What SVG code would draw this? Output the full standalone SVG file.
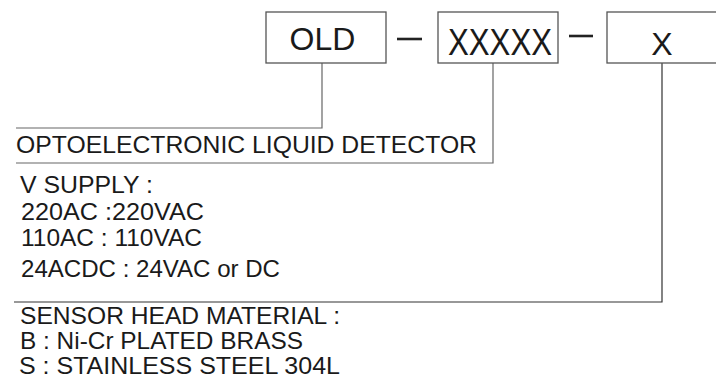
<svg xmlns="http://www.w3.org/2000/svg" width="716" height="387" viewBox="0 0 716 387">
<style>
.box{fill:#fff;stroke:#555;stroke-width:1.3}
.ln{fill:none;stroke:#666;stroke-width:1.2}
.dash{stroke:#222;stroke-width:2.6}
.big{font-family:"Liberation Sans",Arial,sans-serif;fill:#1a1a1a}
.t{font-family:"Liberation Sans",Arial,sans-serif;font-size:24px;fill:#1a1a1a}
</style>
<rect width="716" height="387" fill="#fff"/>
<g id="connectors">
<line class="dash" x1="397" y1="39" x2="422" y2="39"/>
<line class="dash" x1="569" y1="36" x2="593" y2="36"/>
<polyline class="ln" points="322,63 322,128 16,128"/>
<polyline class="ln" points="493,63 493,163 16,163"/>
<polyline class="ln" points="662,63 662,302 14,302" style="stroke:#333"/>
</g>
<g id="node-old">
<rect class="box" x="266" y="12" width="120" height="51"/>
<text class="big" x="322.5" y="50" font-size="32" text-anchor="middle">OLD</text>
</g>
<g id="node-xxxxx">
<rect class="box" x="438" y="12" width="120" height="51"/>
<text class="big" x="448" y="55" font-size="36" textLength="104" lengthAdjust="spacingAndGlyphs">XXXXX</text>
</g>
<g id="node-x">
<rect class="box" x="607" y="12" width="120" height="51"/>
<text class="big" x="662" y="55" font-size="32" text-anchor="middle">X</text>
</g>
<g id="label-type">
<text class="t" x="16" y="153" font-size="24.5" textLength="461" lengthAdjust="spacingAndGlyphs">OPTOELECTRONIC LIQUID DETECTOR</text>
</g>
<g id="label-supply">
<text class="t" x="20" y="193" textLength="133" lengthAdjust="spacingAndGlyphs">V SUPPLY :</text>
<text class="t" x="21" y="220" textLength="183" lengthAdjust="spacingAndGlyphs">220AC :220VAC</text>
<text class="t" x="21" y="246" textLength="181" lengthAdjust="spacingAndGlyphs">110AC : 110VAC</text>
<text class="t" x="21" y="277" textLength="259" lengthAdjust="spacingAndGlyphs">24ACDC : 24VAC or DC</text>
</g>
<g id="label-material">
<text class="t" x="20" y="324" textLength="320" lengthAdjust="spacingAndGlyphs">SENSOR HEAD MATERIAL :</text>
<text class="t" x="20" y="349" textLength="283" lengthAdjust="spacingAndGlyphs">B : Ni-Cr PLATED BRASS</text>
<text class="t" x="19" y="374" textLength="321" lengthAdjust="spacingAndGlyphs">S : STAINLESS STEEL 304L</text>
</g>
</svg>
